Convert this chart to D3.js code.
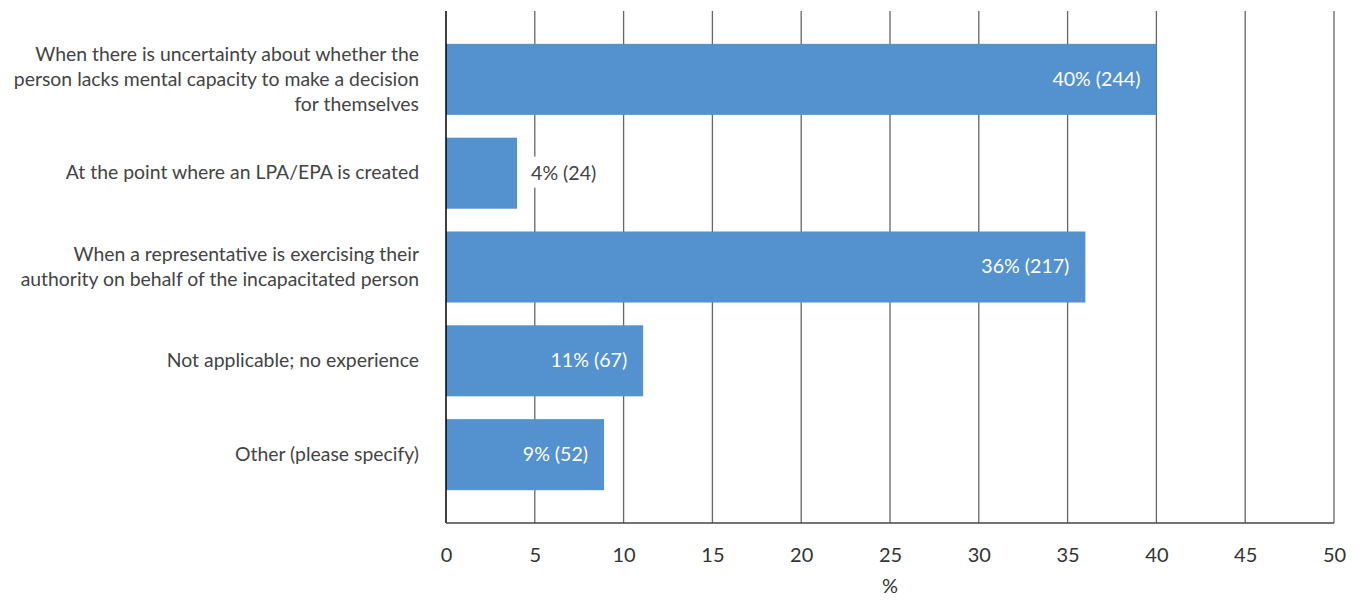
<!DOCTYPE html>
<html>
<head>
<script src="https://d3js.org/d3.v7.min.js"></script>
<style>
  body { margin: 0; background: #fff; }
  text { font-family: Lato, "Open Sans", sans-serif; }
</style>
</head>
<body>
<div id="chart"></div>
<script>
var categories = [
  ["When there is uncertainty about whether the", "person lacks mental capacity to make a decision", "for themselves"],
  ["At the point where an LPA/EPA is created"],
  ["When a representative is exercising their", "authority on behalf of the incapacitated person"],
  ["Not applicable; no experience"],
  ["Other (please specify)"]
];
var values = [40, 4, 36, 11.1, 8.9];
var labels = ["40% (244)", "4% (24)", "36% (217)", "11% (67)", "9% (52)"];
var xTicks = [0, 5, 10, 15, 20, 25, 30, 35, 40, 45, 50];

var width = 1363, height = 601;
var margin = {top: 11, right: 29, bottom: 78, left: 446};

var svg = d3.select("#chart").append("svg")
    .attr("width", width)
    .attr("height", height);

var g = svg.append("g")
    .attr("transform", "translate(" + margin.left + "," + margin.top + ")");

var w = width - margin.left - margin.right,
    h = height - margin.top - margin.bottom;

var x = d3.scaleLinear().domain([0, 50]).range([0, w]);
var y = d3.scaleBand().domain(d3.range(categories.length)).range([0, h])
    .paddingInner(0.243).paddingOuter(0.35);

// gridlines
g.selectAll(".grid")
    .data(xTicks.slice(1))
  .enter().append("line")
    .attr("x1", function(d) { return x(d); })
    .attr("x2", function(d) { return x(d); })
    .attr("y1", 0).attr("y2", h)
    .attr("stroke", "#666").attr("stroke-width", 1.3);

// bars
g.selectAll(".bar")
    .data(values)
  .enter().append("rect")
    .attr("x", 0)
    .attr("y", function(d, i) { return y(i); })
    .attr("width", function(d) { return x(d); })
    .attr("height", y.bandwidth())
    .attr("fill", "#5491cf");

// value labels
values.forEach(function(v, i) {
  var inside = x(v) > 100;
  var cy = y(i) + y.bandwidth() / 2;
  if (inside) {
    g.append("text")
      .attr("x", x(v) - 16).attr("y", cy)
      .attr("dy", "0.33em").attr("text-anchor", "end")
      .attr("fill", "#fff").attr("font-size", 19.6)
      .text(labels[i]);
  } else {
    var t = g.append("text")
      .attr("x", x(v) + 14).attr("y", cy)
      .attr("dy", "0.33em").attr("text-anchor", "start")
      .attr("fill", "#444").attr("font-size", 19.6)
      .text(labels[i]);
    var bb = t.node().getBBox();
    g.insert("rect", function() { return t.node(); })
      .attr("x", bb.x - 2).attr("y", bb.y - 4)
      .attr("width", bb.width + 4).attr("height", bb.height + 8)
      .attr("fill", "#fff");
  }
});

// category labels
categories.forEach(function(lines, i) {
  var cy = y(i) + y.bandwidth() / 2;
  var lh = 25;
  var t = g.append("text")
    .attr("text-anchor", "end")
    .attr("fill", "#444").attr("font-size", 19.4);
  lines.forEach(function(s, j) {
    t.append("tspan")
      .attr("x", -27)
      .attr("y", cy + (j - (lines.length - 1) / 2) * lh)
      .attr("dy", "0.32em")
      .text(s);
  });
});

// axes
g.append("line").attr("x1", 0).attr("x2", 0).attr("y1", 0).attr("y2", h)
  .attr("stroke", "#000").attr("stroke-width", 1.5);
g.append("line").attr("x1", 0).attr("x2", w).attr("y1", h).attr("y2", h)
  .attr("stroke", "#444").attr("stroke-width", 1.5);

var xAxis = g.append("g")
    .attr("transform", "translate(0," + h + ")")
    .call(d3.axisBottom(x).tickValues(xTicks).tickSize(0).tickPadding(25));
xAxis.select(".domain").remove();
xAxis.selectAll("text")
    .attr("font-family", "Lato, sans-serif")
    .attr("font-size", 20)
    .attr("fill", "#333");

g.append("text")
  .attr("x", w / 2).attr("y", h + 70)
  .attr("text-anchor", "middle")
  .attr("fill", "#333").attr("font-size", 20)
  .text("%");
</script>
</body>
</html>
